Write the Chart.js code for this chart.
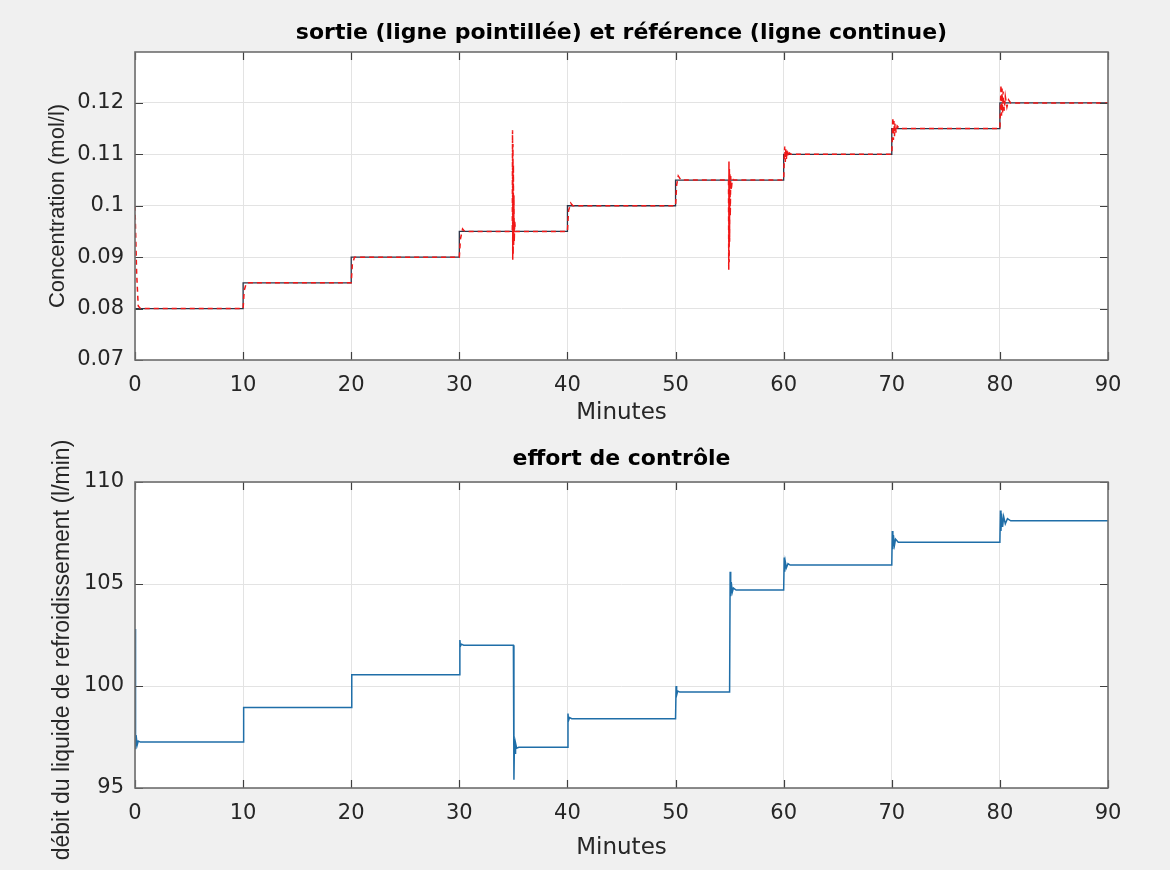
<!DOCTYPE html>
<html lang="fr">
<head>
<meta charset="utf-8">
<title>Concentration et effort de contrôle</title>
<script src="https://cdn.jsdelivr.net/npm/chart.js@4.4.1/dist/chart.umd.min.js"></script>
<style>
  html, body { margin: 0; padding: 0; background: #f0f0f0; }
  #page { position: relative; width: 1170px; height: 870px; overflow: hidden; }
  canvas { position: absolute; left: 0; }
  #grapheHaut { top: 0; }
  #grapheBas { top: 420px; }
</style>
</head>
<body>
<div id="page">
  <canvas id="grapheHaut" width="1170" height="435"></canvas>
  <canvas id="grapheBas" width="1170" height="450"></canvas>
</div>
<script>
// graduations
const minutesTicks = [0, 10, 20, 30, 40, 50, 60, 70, 80, 90];
const concTicks = [0.07, 0.08, 0.09, 0.1, 0.11, 0.12];
const debitTicks = [95, 100, 105, 110];

// référence (consigne en escalier)
const refTemps = [0, 10, 20, 30, 40, 50, 60, 70, 80, 90];
const refValeurs = [0.08, 0.085, 0.09, 0.095, 0.1, 0.105, 0.11, 0.115, 0.12, 0.12];

// sortie du réacteur
const sortieTemps = [
  0, 0.15, 0.3, 0.5, 10, 10.1, 10.3, 20, 20.1, 20.3, 30, 30.1, 30.3, 30.5,
  34.9, 34.92, 34.94, 34.96, 34.98, 35.0, 35.02, 35.05, 35.08, 35.12, 35.2,
  40, 40.1, 40.3, 40.5, 50, 50.1, 50.25, 50.5,
  54.9, 54.92, 54.94, 54.96, 54.98, 55.0, 55.03, 55.06, 55.1, 55.15, 55.25, 55.4,
  60, 60.05, 60.1, 60.15, 60.2, 60.25, 60.3, 60.4, 60.5, 60.7,
  70, 70.05, 70.1, 70.15, 70.2, 70.25, 70.3, 70.4, 70.5, 70.7,
  80, 80.05, 80.1, 80.15, 80.2, 80.25, 80.3, 80.4, 80.5, 80.65, 80.8, 81, 90
];
const sortieValeurs = [
  0.1, 0.087, 0.0805, 0.08, 0.08, 0.0835, 0.085, 0.085, 0.0885, 0.09, 0.09, 0.0935, 0.0955, 0.095,
  0.095, 0.1147, 0.0895, 0.112, 0.0905, 0.108, 0.092, 0.102, 0.093, 0.097, 0.095,
  0.095, 0.099, 0.1005, 0.1, 0.1, 0.104, 0.1058, 0.105,
  0.105, 0.0875, 0.1086, 0.089, 0.1075, 0.093, 0.1065, 0.098, 0.1058, 0.103, 0.1052, 0.105,
  0.105, 0.109, 0.1115, 0.1085, 0.1112, 0.109, 0.1108, 0.1095, 0.1103, 0.11,
  0.11, 0.1135, 0.1172, 0.1128, 0.1165, 0.1135, 0.116, 0.1142, 0.1155, 0.115,
  0.115, 0.119, 0.1235, 0.1175, 0.1228, 0.118, 0.1222, 0.1185, 0.1213, 0.1192, 0.1206, 0.12, 0.12
];

// débit du liquide de refroidissement
const effortTemps = [
  0, 0.05, 0.1, 0.2, 0.3, 0.5, 10, 10.05, 20, 20.05, 30, 30.05, 30.1, 30.2, 30.4,
  35, 35.05, 35.1, 35.15, 35.2, 35.3, 35.5, 40, 40.05, 40.1, 40.2, 40.4,
  50, 50.05, 50.1, 50.2, 50.4, 55, 55.05, 55.1, 55.15, 55.25, 55.35, 55.6,
  60, 60.05, 60.1, 60.15, 60.25, 60.4, 60.6, 70, 70.05, 70.1, 70.15, 70.25, 70.35, 70.6,
  80, 80.05, 80.1, 80.15, 80.25, 80.35, 80.5, 80.7, 81, 90
];
const effortValeurs = [
  102.8, 96.9, 97.6, 97.1, 97.3, 97.25, 97.25, 98.95, 98.95, 100.55, 100.55, 102.25, 101.95, 102.05, 102.0,
  102.0, 95.4, 97.4, 96.7, 97.2, 96.95, 97.0, 97.0, 98.65, 98.3, 98.45, 98.4,
  98.4, 100.0, 99.55, 99.75, 99.7, 99.7, 105.6, 104.4, 105.1, 104.6, 104.8, 104.7,
  104.7, 106.3, 105.6, 106.1, 105.8, 106.0, 105.93, 105.93, 107.6, 106.7, 107.4, 106.9, 107.2, 107.05,
  107.05, 108.6, 107.6, 108.45, 107.8, 108.3, 107.95, 108.2, 108.1, 108.1
];

// texte horizontal un peu large, texte vertical plus serré
const policeLarge = "'DejaVu Sans', Verdana, sans-serif";
const police = "'Liberation Sans', Arial, sans-serif";

function points(xs, ys) {
  return xs.map((x, i) => ({ x: x, y: ys[i] }));
}

// fond blanc, cadre, petites graduations intérieures et titre vertical
const cadre = {
  id: 'cadre',
  beforeDraw(chart) {
    const { ctx, chartArea: a } = chart;
    ctx.save();
    ctx.fillStyle = '#ffffff';
    ctx.fillRect(a.left, a.top, a.right - a.left, a.bottom - a.top);
    ctx.restore();
  },
  afterDraw(chart, args, opts) {
    const { ctx, chartArea: a, scales } = chart;
    ctx.save();
    ctx.strokeStyle = '#404040';
    ctx.lineWidth = 1.2;
    ctx.beginPath();
    scales.x.ticks.forEach(t => {
      const px = Math.round(scales.x.getPixelForValue(t.value)) + 0.5;
      ctx.moveTo(px, a.bottom); ctx.lineTo(px, a.bottom - 8);
      ctx.moveTo(px, a.top); ctx.lineTo(px, a.top + 8);
    });
    scales.y.ticks.forEach(t => {
      const py = Math.round(scales.y.getPixelForValue(t.value)) + 0.5;
      ctx.moveTo(a.left, py); ctx.lineTo(a.left + 8, py);
      ctx.moveTo(a.right, py); ctx.lineTo(a.right - 8, py);
    });
    ctx.stroke();
    ctx.strokeStyle = '#6e6e6e';
    ctx.lineWidth = 1.6;
    ctx.strokeRect(a.left, a.top, a.right - a.left, a.bottom - a.top);

    // titre de l'axe y, centré sur l'axe puis décalé
    ctx.translate(opts.x, (a.top + a.bottom) / 2 + opts.decalage);
    ctx.rotate(-Math.PI / 2);
    ctx.fillStyle = '#262626';
    ctx.font = opts.taille + 'px ' + police;
    ctx.textAlign = 'center';
    ctx.textBaseline = 'middle';
    ctx.fillText(opts.texte, 0, 0);
    ctx.restore();
  }
};

function options(cfg) {
  return {
    responsive: false,
    animation: false,
    layout: { padding: { left: 0, right: 62, top: 0, bottom: 0 } },
    plugins: {
      legend: { display: false },
      tooltip: { enabled: false },
      title: {
        display: true,
        fullSize: false,
        text: cfg.titre,
        color: '#000000',
        font: { family: policeLarge, size: 22, weight: 'bold' },
        padding: cfg.titrePadding
      },
      cadre: { texte: cfg.yTitre, taille: cfg.yTitreTaille, x: cfg.yTitreX, decalage: cfg.yTitreDecalage }
    },
    scales: {
      x: {
        type: 'linear',
        min: 0,
        max: 90,
        afterBuildTicks: s => { s.ticks = minutesTicks.map(v => ({ value: v })); },
        afterFit: s => { s.height = cfg.hauteurX; },
        ticks: {
          color: '#262626', padding: 13, maxRotation: 0, autoSkip: false,
          font: { family: policeLarge, size: 21 },
          callback: v => String(v)
        },
        grid: { color: '#e3e3e3', lineWidth: 1, drawTicks: false },
        border: { display: false },
        title: {
          display: true, text: 'Minutes', color: '#262626',
          font: { family: policeLarge, size: 23 },
          padding: { top: 0, bottom: cfg.minutesPadding }
        }
      },
      y: {
        type: 'linear',
        min: cfg.yMin,
        max: cfg.yMax,
        afterBuildTicks: s => { s.ticks = cfg.yTicks.map(v => ({ value: v })); },
        afterFit: s => { s.width = 135; },
        ticks: {
          color: '#262626', padding: 11,
          font: { family: policeLarge, size: 21 },
          callback: v => String(v)
        },
        grid: { color: '#e3e3e3', lineWidth: 1, drawTicks: false },
        border: { display: false }
      }
    }
  };
}

new Chart(document.getElementById('grapheHaut'), {
  type: 'line',
  data: {
    datasets: [
      {
        label: 'sortie',
        data: points(sortieTemps, sortieValeurs),
        borderColor: '#f01818',
        borderWidth: 1.5,
        borderDash: [5, 4],
        pointRadius: 0,
        tension: 0,
        order: 0
      },
      {
        label: 'référence',
        data: points(refTemps, refValeurs),
        borderColor: '#2b3548',
        borderWidth: 1.3,
        stepped: 'before',
        pointRadius: 0,
        order: 1
      }
    ]
  },
  options: options({
    titre: 'sortie (ligne pointillée) et référence (ligne continue)',
    titrePadding: { top: 20, bottom: 5.6 },
    hauteurX: 75,
    minutesPadding: 8.2,
    yMin: 0.07,
    yMax: 0.1299,
    yTicks: concTicks,
    yTitre: 'Concentration (mol/l)',
    yTitreTaille: 22,
    yTitreX: 58,
    yTitreDecalage: 0
  }),
  plugins: [cadre]
});

new Chart(document.getElementById('grapheBas'), {
  type: 'line',
  data: {
    datasets: [{
      label: 'débit',
      data: points(effortTemps, effortValeurs),
      borderColor: '#1f6ea8',
      borderWidth: 1.5,
      pointRadius: 0,
      tension: 0
    }]
  },
  options: options({
    titre: 'effort de contrôle',
    titrePadding: { top: 26, bottom: 9.6 },
    hauteurX: 82,
    minutesPadding: 8.2,
    yMin: 95,
    yMax: 110,
    yTicks: debitTicks,
    yTitre: 'débit du liquide de refroidissement (l/min)',
    yTitreTaille: 23,
    yTitreX: 63,
    yTitreDecalage: 15
  }),
  plugins: [cadre]
});
</script>
</body>
</html>
